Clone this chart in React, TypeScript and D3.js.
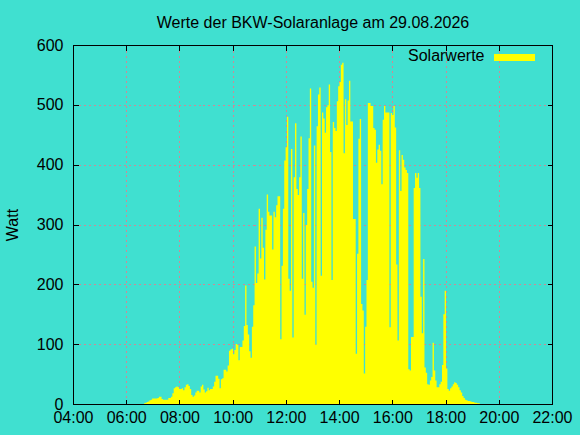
import { useEffect, useRef } from 'react';
import * as d3 from 'd3';

// Solarwerte in Watt, ein Messwert etwa alle 3 Minuten ab 06:39
const morningValues = [
  2, 3, 4, 5, 7, 8, 10, 10, 10, 10,
  11, 13, 13, 9, 8, 8, 8, 8, 11, 11,
  13, 19, 27, 29, 30, 29, 26, 26, 27, 24,
  29, 33, 34, 31, 26, 16, 13, 15, 20, 23,
  23, 20, 30, 33, 25, 20, 22, 28, 24, 26,
  26, 30, 38, 48, 48, 43, 27, 42, 44, 58,
  58, 55, 65, 90, 92, 93, 84, 91, 101, 100,
];
const lateMorningValues = [
  74, 96, 96, 107, 131, 199, 133, 117, 89, 78,
  130, 166, 264, 203, 219, 327, 244, 312, 262, 209,
  292, 351, 322, 316, 316, 259, 322, 313, 333, 348,
  348,
];
const middayValues = [
  109, 232, 327, 408, 430, 481, 210, 190, 427, 112,
  380, 470, 360, 350, 380, 448, 210, 320, 150, 300,
  360, 445, 528, 205, 195, 433, 100, 465, 518, 530,
  215, 488, 478, 454, 497, 500, 535, 422, 208, 472,
  462,
];
const noonValues = [
  457, 507, 532, 539, 568, 571, 420, 510, 467, 508,
  541, 473, 473, 310, 310, 85, 252, 444, 477, 168,
  157, 52, 130, 208, 504, 504, 499, 499, 462, 459,
  404, 426, 434, 424, 368, 476, 499, 488, 488, 488,
  129, 487, 484,
];
const afternoonValues = [
  499, 463, 234, 107, 425, 357, 417, 409, 396, 392,
  387, 59, 57, 113, 113, 362, 387, 379, 387, 362,
  180, 119, 243, 62, 53, 34, 33, 40, 46, 103,
  57, 40, 29, 29, 34, 38, 66, 151, 190, 60,
];
const eveningValues = [
  26, 23, 27, 30, 34, 37, 36, 33, 29, 24,
  20, 14, 11, 8, 7, 6, 6, 5, 4, 4,
  3, 3, 2, 2, 1,
];

const START_HOUR = 6 + 39 / 60;
const STEP_MIN = 3.04;

const xTickHours = [4, 6, 8, 10, 12, 14, 16, 18, 20, 22];
const xTickLabels = ['04:00', '06:00', '08:00', '10:00', '12:00', '14:00', '16:00', '18:00', '20:00', '22:00'];
const yTicks = [0, 100, 200, 300, 400, 500, 600];

const TITLE = 'Werte der BKW-Solaranlage am 29.08.2026';
const SERIES_NAME = 'Solarwerte';

interface Point {
  hour: number;
  value: number;
}

const App = () => {
  const svgRef = useRef<SVGSVGElement | null>(null);
  const width = 580;
  const height = 435;

  useEffect(() => {
    if (!svgRef.current) return;
    const svg = d3.select(svgRef.current);
    svg.selectAll('*').remove();

    const values = [
      ...morningValues,
      ...lateMorningValues,
      ...middayValues,
      ...noonValues,
      ...afternoonValues,
      ...eveningValues,
    ];
    const data: Point[] = values.map((v, i) => ({ hour: START_HOUR + (i * STEP_MIN) / 60, value: v }));

    const left = 73.5, right = 552.5, top = 45.5, bottom = 404.5;
    const font = '"Liberation Sans", Arial, sans-serif';

    const x = d3.scaleLinear().domain([4, 22]).range([left, right]);
    const y = d3.scaleLinear().domain([0, 600]).range([bottom, top]);
    const px = (h: number) => Math.floor(x(h)) + 0.5;
    const py = (v: number) => Math.floor(y(v)) + 0.5;

    svg.append('rect')
      .attr('width', width)
      .attr('height', height)
      .attr('fill', '#40e0d0');

    // grid (behind the fill, like gnuplot's default)
    const grid = svg.append('g')
      .attr('stroke', '#cc8a96')
      .attr('stroke-width', 1)
      .attr('stroke-dasharray', '2,3')
      .attr('shape-rendering', 'crispEdges');
    xTickHours.slice(1, -1).forEach(h => {
      grid.append('line')
        .attr('x1', px(h)).attr('x2', px(h))
        .attr('y1', top).attr('y2', bottom);
    });
    yTicks.slice(1, -1).forEach(v => {
      grid.append('line')
        .attr('x1', left).attr('x2', right)
        .attr('y1', py(v)).attr('y2', py(v));
    });

    // filled series
    const area = d3.area<Point>()
      .x(d => x(d.hour))
      .y0(y(0))
      .y1(d => y(d.value))
      .curve(d3.curveStepAfter);

    svg.append('path')
      .datum(data)
      .attr('fill', '#ffff00')
      .attr('d', area);

    // frame
    svg.append('rect')
      .attr('x', left).attr('y', top)
      .attr('width', right - left).attr('height', bottom - top)
      .attr('fill', 'none')
      .attr('stroke', '#000')
      .attr('stroke-width', 1);

    // ticks (inward, mirrored)
    const ticks = svg.append('g')
      .attr('stroke', '#000')
      .attr('stroke-width', 1)
      .attr('shape-rendering', 'crispEdges');
    const tickLen = 5;
    xTickHours.forEach(h => {
      ticks.append('line').attr('x1', px(h)).attr('x2', px(h)).attr('y1', bottom).attr('y2', bottom - tickLen);
      ticks.append('line').attr('x1', px(h)).attr('x2', px(h)).attr('y1', top).attr('y2', top + tickLen);
    });
    yTicks.forEach(v => {
      ticks.append('line').attr('x1', left).attr('x2', left + tickLen).attr('y1', py(v)).attr('y2', py(v));
      ticks.append('line').attr('x1', right).attr('x2', right - tickLen).attr('y1', py(v)).attr('y2', py(v));
    });

    const text = svg.append('g')
      .attr('font-family', font)
      .attr('font-size', 16)
      .attr('fill', '#000');

    xTickHours.forEach((h, i) => {
      text.append('text')
        .attr('x', x(h))
        .attr('y', 423)
        .attr('text-anchor', 'middle')
        .text(xTickLabels[i]);
    });

    yTicks.forEach(v => {
      text.append('text')
        .attr('x', 63.5)
        .attr('y', y(v) + 5)
        .attr('text-anchor', 'end')
        .text(v);
    });

    text.append('text')
      .attr('transform', `translate(17.5,${(top + bottom) / 2}) rotate(-90)`)
      .attr('text-anchor', 'middle')
      .text('Watt');

    text.append('text')
      .attr('x', (left + right) / 2)
      .attr('y', 28)
      .attr('text-anchor', 'middle')
      .text(TITLE);

    // legend
    text.append('text')
      .attr('x', 484.5)
      .attr('y', 61)
      .attr('text-anchor', 'end')
      .text(SERIES_NAME);

    svg.append('rect')
      .attr('x', 494)
      .attr('y', 54)
      .attr('width', 41)
      .attr('height', 7)
      .attr('fill', '#ffff00');
  }, []);

  return (
    <svg
      ref={svgRef}
      width={width}
      height={height}
      style={{ position: 'fixed', left: 0, top: 0, display: 'block' }}
    />
  );
};

export default App;
